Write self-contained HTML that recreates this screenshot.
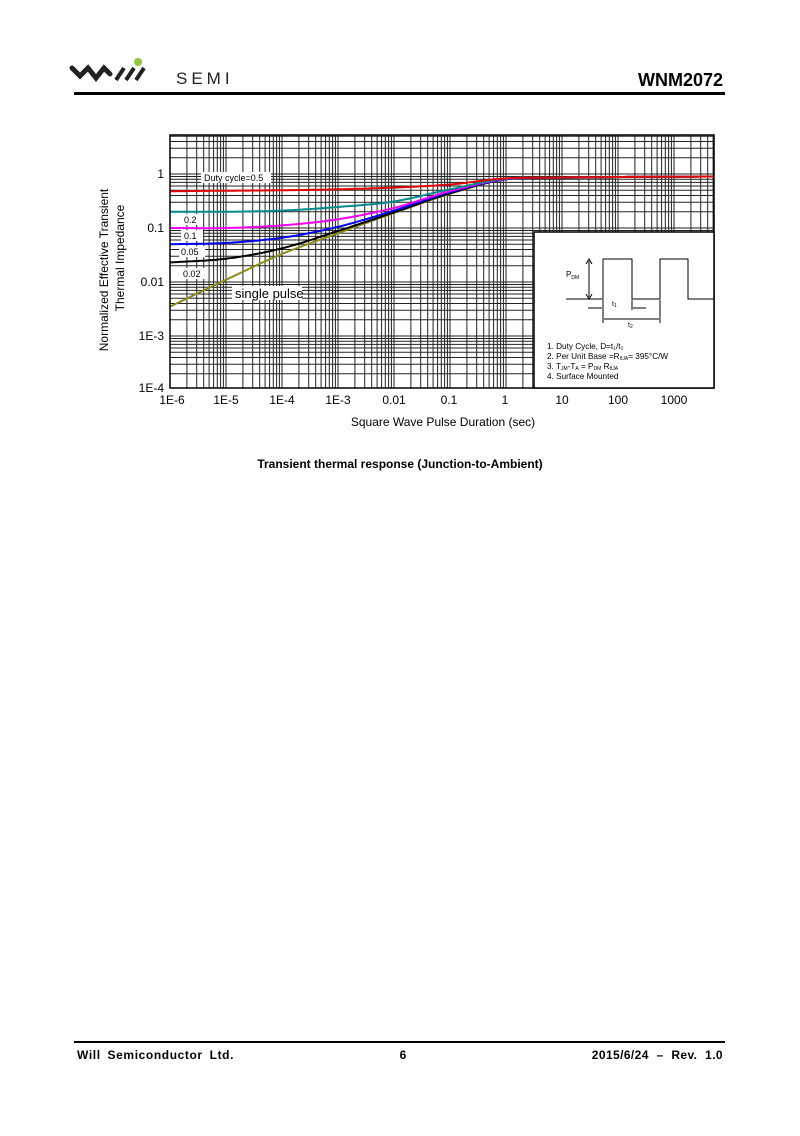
<!DOCTYPE html>
<html><head><meta charset="utf-8"><style>
body{margin:0;background:#fff;}
.pg{position:relative;width:800px;height:1131px;font-family:"Liberation Sans",sans-serif;}
</style></head><body><div class="pg">
<svg width="800" height="1131" xmlns="http://www.w3.org/2000/svg" font-family="Liberation Sans, sans-serif">
<!-- header -->
<path d="M72 68 L80 76 L88 68 L96 78 L104 68 L110 74" stroke="#222" stroke-width="5" fill="none" stroke-linecap="round"/>
<path d="M116 80 L124 68 M126 80 L134 68 M136 80 L144 68" stroke="#222" stroke-width="4" fill="none"/>
<circle cx="138" cy="62" r="4" fill="#8dc63f"/>
<text x="176" y="84" font-size="17" letter-spacing="4" fill="#222">SEMI</text>
<text x="723" y="86" font-size="18" font-weight="bold" text-anchor="end">WNM2072</text>
<rect x="74" y="92" width="651" height="3" fill="#000"/>
<g id="grid"></g>
<g id="curves"></g>
<rect x="170" y="135" width="544" height="253" fill="none" stroke="#000" stroke-width="1.5"/>
<!-- inset -->
<rect x="534" y="232" width="180" height="156" fill="#fff" stroke="#000" stroke-width="1.5"/>
<path d="M566 299 L603 299 L603 259 L632 259 L632 299 L660 299 L660 259 L688 259 L688 299 L714 299" stroke="#000" fill="none"/>
<path d="M589 261 L589 297 M586 264 L589 259 L592 264 M586 294 L589 299 L592 294" stroke="#000" fill="none"/>
<text x="566" y="277" font-size="8">P<tspan font-size="5" dy="2">DM</tspan></text>
<path d="M603 300 L603 323 M632 300 L632 310 M660 300 L660 323 M588 308 L602 308 M633 308 L646 308 M604 319 L659 319" stroke="#000" fill="none"/>
<text x="612" y="306" font-size="7">t<tspan font-size="5" dy="1">1</tspan></text>
<text x="628" y="327" font-size="7">t<tspan font-size="5" dy="1">2</tspan></text>
<g font-size="8.2">
<text x="547" y="349">1. Duty Cycle, D=t₁/t₂</text>
<text x="547" y="359">2. Per Unit Base =R<tspan font-size="5" dy="1">θJA</tspan><tspan dy="-1">= 395°C/W</tspan></text>
<text x="547" y="369">3. T<tspan font-size="5" dy="1">JM</tspan><tspan dy="-1">-T</tspan><tspan font-size="5" dy="1">A</tspan><tspan dy="-1"> = P</tspan><tspan font-size="5" dy="1">DM</tspan><tspan dy="-1"> R</tspan><tspan font-size="5" dy="1">θJA</tspan></text>
<text x="547" y="379">4. Surface Mounted</text>
</g>
<!-- labels -->
<g font-size="9">
<rect x="201" y="172" width="70" height="11" fill="#fff"/><text x="204" y="181">Duty cycle=0.5</text>
<rect x="181" y="214" width="22" height="11" fill="#fff"/><text x="184" y="223">0.2</text>
<rect x="181" y="230" width="22" height="11" fill="#fff"/><text x="184" y="239">0.1</text>
<rect x="179" y="246" width="26" height="11" fill="#fff"/><text x="181" y="255">0.05</text>
<rect x="181" y="268" width="26" height="11" fill="#fff"/><text x="183" y="277">0.02</text>
</g>
<rect x="232" y="286" width="70" height="14" fill="#fff"/><text x="235" y="298" font-size="13">single pulse</text>
<g font-size="12" text-anchor="end">
<text x="164" y="178">1</text><text x="164" y="232">0.1</text><text x="164" y="286">0.01</text>
<text x="164" y="340">1E-3</text><text x="164" y="392">1E-4</text>
</g>
<g font-size="12" text-anchor="middle">
<text x="172" y="404">1E-6</text><text x="226" y="404">1E-5</text><text x="282" y="404">1E-4</text>
<text x="338" y="404">1E-3</text><text x="394" y="404">0.01</text><text x="449" y="404">0.1</text>
<text x="505" y="404">1</text><text x="562" y="404">10</text><text x="618" y="404">100</text><text x="674" y="404">1000</text>
</g>
<text x="443" y="426" font-size="12" text-anchor="middle">Square Wave Pulse Duration (sec)</text>
<text transform="translate(108,270) rotate(-90)" font-size="12" text-anchor="middle">Normalized Effective Transient</text>
<text transform="translate(124,258) rotate(-90)" font-size="12" text-anchor="middle">Thermal Impedance</text>
<text x="400" y="468" font-size="12" font-weight="bold" text-anchor="middle">Transient thermal response (Junction-to-Ambient)</text>
<!-- footer -->
<rect x="74" y="1041" width="651" height="2" fill="#000"/>
<g font-size="12" font-weight="bold">
<text x="77" y="1059" letter-spacing="0.6" word-spacing="3">Will Semiconductor Ltd.</text>
<text x="403" y="1059" text-anchor="middle">6</text>
<text x="723" y="1059" text-anchor="end" letter-spacing="0.4" word-spacing="4">2015/6/24 – Rev. 1.0</text>
</g>
</svg>
<script>
var NS="http://www.w3.org/2000/svg";
function X(l){return 170+56*(l+6);}function Y(l){return 174-54*l;}
var g=document.getElementById("grid"),s="";
for(var d=-6;d<4;d++)for(var k=1;k<10;k++){var x=X(d+Math.log10(k));if(x>170&&x<714)s+="M"+x.toFixed(1)+" 135V388";}
for(var d=-4;d<1;d++)for(var k=1;k<10;k++){var y=Y(d+Math.log10(k));if(y>135&&y<388)s+="M170 "+y.toFixed(1)+"H714";}
s+="M170 "+Y(0)+"H714";for(var k=2;k<6;k++){var y=Y(Math.log10(k));s+="M170 "+y.toFixed(1)+"H714";}
var p=document.createElementNS(NS,"path");p.setAttribute("d",s);p.setAttribute("stroke","#222");p.setAttribute("stroke-width","1");g.appendChild(p);
var T=[-6,-5,-4,-3,-2,-1,0,1,2,3.7];
var C=[["#8c8c1a",[0.0035,0.011,0.033,0.08,0.19,0.43,0.8,0.85,0.88,0.9]],
["#000",[0.023,0.027,0.042,0.088,0.195,0.44,0.8,0.85,0.88,0.9]],
["#0000ee",[0.05,0.053,0.066,0.105,0.21,0.46,0.8,0.85,0.88,0.9]],
["#ee00ee",[0.1,0.1,0.112,0.145,0.235,0.48,0.81,0.86,0.88,0.9]],
["#008b8b",[0.2,0.2,0.21,0.245,0.31,0.52,0.82,0.86,0.88,0.9]],
["#e00000",[0.48,0.49,0.5,0.52,0.56,0.64,0.83,0.86,0.88,0.9]]];
var cg=document.getElementById("curves");
C.forEach(function(c){var pts=[];for(var t=-6;t<=3.7;t+=0.05){var i=0;while(i<T.length-2&&t>T[i+1])i++;var f=(t-T[i])/(T[i+1]-T[i]);
var a=Math.log10(c[1][i]),b=Math.log10(c[1][i+1]);
var a0=i>0?Math.log10(c[1][i-1]):a-(b-a),b1=i<T.length-2?Math.log10(c[1][i+2]):b+(b-a);
var m0=(b-a0)/2,m1=(b1-a)/2,f2=f*f,f3=f2*f;
var v=(2*f3-3*f2+1)*a+(f3-2*f2+f)*m0+(-2*f3+3*f2)*b+(f3-f2)*m1;
pts.push(X(t).toFixed(1)+","+Y(v).toFixed(1));}
var pl=document.createElementNS(NS,"polyline");pl.setAttribute("points",pts.join(" "));pl.setAttribute("fill","none");pl.setAttribute("stroke",c[0]);pl.setAttribute("stroke-width","2");cg.appendChild(pl);});
</script>
</div></body></html>
